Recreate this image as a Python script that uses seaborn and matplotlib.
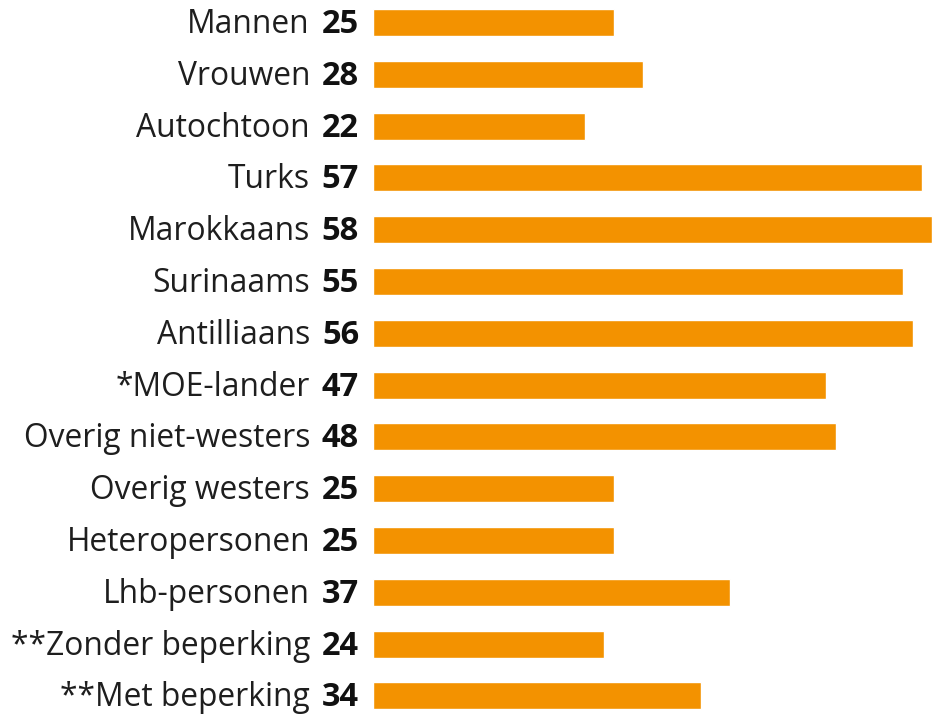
import matplotlib
matplotlib.use("Agg")
import matplotlib.pyplot as plt
import matplotlib.transforms as mtransforms
import pandas as pd
import seaborn as sns

categories = [
    "Mannen", "Vrouwen", "Autochtoon", "Turks", "Marokkaans", "Surinaams",
    "Antilliaans", "*MOE-lander", "Overig niet-westers", "Overig westers",
    "Heteropersonen", "Lhb-personen", "**Zonder beperking", "**Met beperking",
]
values = [25, 28, 22, 57, 58, 55, 56, 47, 48, 25, 25, 37, 24, 34]

df = pd.DataFrame({"groep": categories, "waarde": values})

sns.set_theme(style="white")
plt.rcParams["font.family"] = ["Open Sans", "DejaVu Sans"]

W, H, DPI = 933, 716, 100
fig = plt.figure(figsize=(W / DPI, H / DPI), dpi=DPI)
fig.patch.set_facecolor("white")

x0 = 373
ax = fig.add_axes([x0 / W, 0, (W - x0) / W, 1])
sns.barplot(data=df, y="groep", x="waarde", orient="h", color="#F39200",
            saturation=1, width=0.52, ax=ax)

ax.set_xlim(0, 58.1)
row = 51.8
first = 22.5
ax.set_ylim((H - first) / row, -first / row)
ax.set_axis_off()

renderer = fig.canvas.get_renderer()

# size the category labels so the widest one fits in the left margin
probe = fig.text(0, 0, "**Zonder beperking", fontsize=20)
w = probe.get_window_extent(renderer).width
probe.remove()
lab_fs = 20 * 298 / w

num_tr = mtransforms.offset_copy(ax.transData, fig=fig, x=-14, y=-10.5, units="dots")
lab_tr = mtransforms.offset_copy(ax.transData, fig=fig, x=-63, y=-10.5, units="dots")
for i, (c, v) in enumerate(zip(categories, values)):
    ax.text(0, i, f"{v}", transform=num_tr, ha="right", va="baseline",
            fontsize=lab_fs * 1.03, fontweight="bold", color="#111111")
    ax.text(0, i, c, transform=lab_tr, ha="right", va="baseline",
            fontsize=lab_fs, color="#1e1e1e")

fig.savefig("out.png", dpi=DPI, facecolor="white")
